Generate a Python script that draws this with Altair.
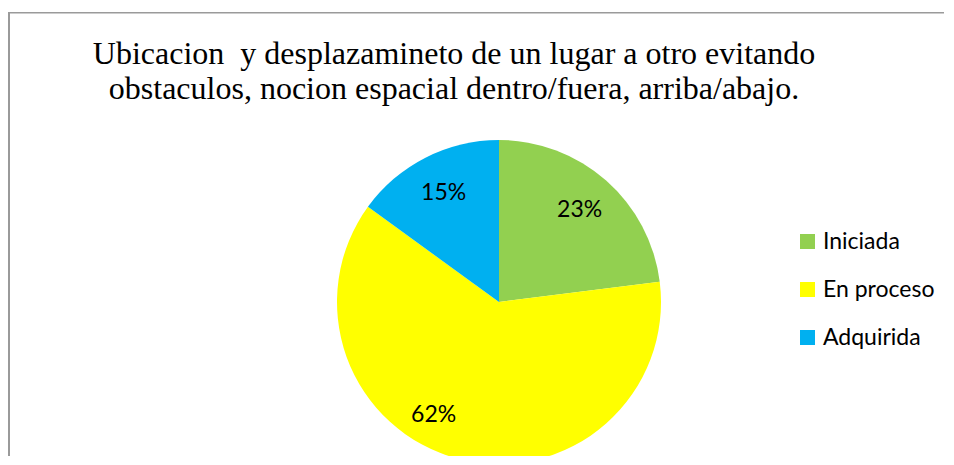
import altair as alt
import pandas as pd

categories = ["Iniciada", "En proceso", "Adquirida"]
values = [23, 62, 15]
labels = ["23%", "62%", "15%"]
colors = ["#92D050", "#FFFF00", "#00B0F0"]
title_lines = ["Ubicacion\u00a0 y desplazamineto de un lugar a otro evitando",
               "obstaculos, nocion espacial dentro/fuera, arriba/abajo."]

df = pd.DataFrame({"categoria": categories, "valor": values,
                   "etiqueta": labels, "orden": list(range(len(categories)))})

W, H = 936, 444
CX, CY, R = 491, 290, 162

color = alt.Color("categoria:N", scale=alt.Scale(domain=categories, range=colors),
                  legend=alt.Legend(title=None, orient="none", legendX=788, legendY=218,
                                    symbolType="square", symbolSize=225, symbolStrokeWidth=0,
                                    labelFont="Lato", labelFontSize=23, labelColor="#000000",
                                    labelOffset=4, rowPadding=24, padding=0))

base = alt.Chart(df)

pie = base.mark_arc(radius=R, stroke=None).encode(
    theta=alt.Theta("valor:Q", stack=True),
    order=alt.Order("orden:Q"),
    color=color,
    x=alt.value(CX), y=alt.value(CY),
)

text_main = base.mark_text(radius=122, font="Lato", fontSize=23, color="#000000").encode(
    theta=alt.Theta("valor:Q", stack=True),
    order=alt.Order("orden:Q"),
    text="etiqueta:N",
    opacity=alt.condition("datum.orden != 1", alt.value(1), alt.value(0)),
    x=alt.value(CX), y=alt.value(CY),
)

text_big = base.mark_text(radius=122, dx=-35, dy=-5, font="Lato", fontSize=23,
                          color="#000000").encode(
    theta=alt.Theta("valor:Q", stack=True),
    order=alt.Order("orden:Q"),
    text="etiqueta:N",
    opacity=alt.condition("datum.orden == 1", alt.value(1), alt.value(0)),
    x=alt.value(CX), y=alt.value(CY),
)

title = alt.Chart(df.head(1)).mark_text(
    text=title_lines, font="Liberation Serif", fontSize=32, lineHeight=35,
    color="#000000", align="center", baseline="alphabetic").encode(
    x=alt.value(446), y=alt.value(52))

frame_left = alt.Chart(df.head(1)).mark_rect(color="#9a9a9a", strokeWidth=0).encode(
    x=alt.value(0), x2=alt.value(2), y=alt.value(0), y2=alt.value(H))
frame_top = alt.Chart(df.head(1)).mark_rect(color="#9a9a9a", strokeWidth=0).encode(
    x=alt.value(0), x2=alt.value(W), y=alt.value(0), y2=alt.value(1.5))

chart = alt.layer(pie, text_main, text_big, title, frame_left, frame_top).properties(
    width=W, height=H, autosize=alt.AutoSizeParams(type="none"),
    padding={"left": 0, "top": 4, "right": 0, "bottom": 0},
).configure_view(stroke=None)

chart.save("out.html", embed_options={"renderer": "svg", "actions": False})
